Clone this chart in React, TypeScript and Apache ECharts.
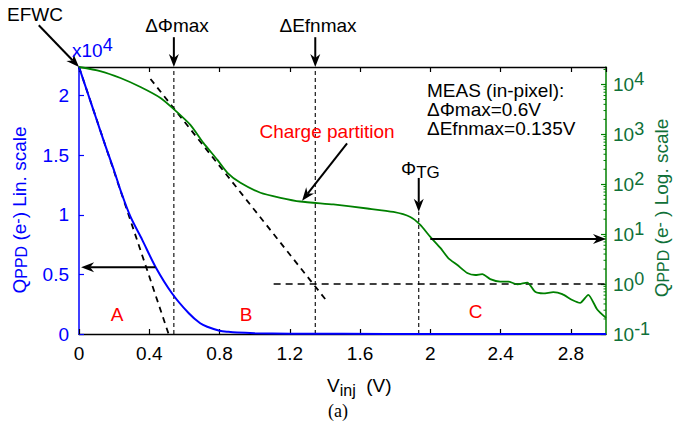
import React, { useEffect, useRef } from 'react';
import * as echarts from 'echarts';

// Injection voltage sweep (V) and pinned-photodiode charge, linear view (x10^4 e-)
const V_LIN = [0, 0.05, 0.1, 0.15, 0.2, 0.24, 0.293, 0.36, 0.435, 0.53, 0.625, 0.69, 0.73, 0.8, 0.85, 0.9, 1.0, 1.2, 1.5, 2.0, 2.5, 3.0];
const Q_LIN = [2.24, 2.02, 1.8, 1.58, 1.37, 1.19, 0.984, 0.79, 0.565, 0.34, 0.174, 0.09, 0.061, 0.028, 0.018, 0.012, 0.007, 0.003, 0.0015, 0.0007, 0.0003, 0.0001];

// Same measurement, log view (e-)
const V_LOG = [0, 0.12, 0.236, 0.35, 0.464, 0.538, 0.634, 0.708, 0.788, 0.845, 0.919, 1.033, 1.147, 1.26, 1.448, 1.641, 1.79, 1.886, 1.943, 2.0, 2.057, 2.102, 2.154, 2.21, 2.256, 2.296, 2.341, 2.398, 2.444, 2.495, 2.552, 2.597, 2.643, 2.7, 2.751, 2.808, 2.853, 2.899, 2.95, 3.0];
const Q_LOG = [22400, 18600, 13500, 8900, 5370, 3240, 1550, 676, 309, 170, 107, 67.6, 53.7, 45.2, 39.4, 32.7, 27.9, 22.1, 15.3, 8.8, 5.3, 3.33, 2.41, 1.67, 1.52, 1.59, 1.26, 1.12, 1.12, 0.99, 1.07, 0.7, 0.65, 0.69, 0.63, 0.48, 0.42, 0.61, 0.31, 0.21];

// Full well and marker voltages
const EFWC = 22400;
const V_DPHI = 0.54;
const V_DEFN = 1.345;
const V_TG = 1.934;

// Tangent fits (regions A and B)
const TAN_A: [number, number][] = [[0, 2.24], [0.51, 0]];
const TAN_B: [number, number][] = [[0.407, 12900], [1.41, 0.46]];

// Log axis minor tick multipliers and decades
const MINOR_MULT = [2, 3, 4, 5, 6, 7, 8, 9];
const DECADES = [0.1, 1, 10, 100, 1000, 10000];

const FONT = '"Liberation Sans", Arial, Helvetica, sans-serif';
const BLUE = '#0000ff';
const GREEN = '#008000';
const GREEN_TXT = '#107038';
const RED = '#ff0000';

export default function App() {
  const ref = useRef<HTMLDivElement>(null);

  useEffect(() => {
    const el = ref.current!;
    const chart = echarts.init(el, null, { renderer: 'svg' });

    const dashed = (yIdx: number, pts: [number, number][], dash: number[], width: number) => ({
      type: 'line',
      xAxisIndex: 0,
      yAxisIndex: yIdx,
      data: pts,
      symbol: 'none',
      silent: true,
      z: 3,
      lineStyle: { color: '#000', width, type: dash },
    });

    const minorTicks = DECADES.flatMap((d) => MINOR_MULT.map((m) => m * d)).filter((v) => v < EFWC);

    chart.setOption({
      animation: false,
      backgroundColor: '#fff',
      grid: { left: 79, right: 67, top: 67, bottom: 102, containLabel: false },
      xAxis: [
        {
          type: 'value',
          position: 'bottom',
          min: 0,
          max: 3,
          interval: 0.4,
          axisLine: { show: true, onZero: false, lineStyle: { color: '#000', width: 1.3 } },
          axisTick: { show: true, inside: true, length: 5, lineStyle: { color: '#000', width: 1.2 } },
          axisLabel: { fontSize: 19, fontFamily: FONT, color: '#000', margin: 10, showMaxLabel: false },
          splitLine: { show: false },
        },
        {
          type: 'value',
          position: 'top',
          min: 0,
          max: 3,
          interval: 0.4,
          axisLine: { show: true, onZero: false, lineStyle: { color: '#000', width: 1.3 } },
          axisTick: { show: true, inside: true, length: 5, lineStyle: { color: '#000', width: 1.2 } },
          axisLabel: { show: false },
          splitLine: { show: false },
        },
      ],
      yAxis: [
        {
          type: 'value',
          position: 'left',
          min: 0,
          max: EFWC / 1e4,
          interval: 0.5,
          axisLine: { show: true, onZero: false, lineStyle: { color: BLUE, width: 1.5 } },
          axisTick: { show: true, inside: true, length: 5, lineStyle: { color: BLUE, width: 1.2 } },
          axisLabel: { fontSize: 19, fontFamily: FONT, color: BLUE, margin: 10, showMaxLabel: false },
          splitLine: { show: false },
        },
        {
          type: 'log',
          logBase: 10,
          position: 'right',
          min: 0.1,
          max: EFWC,
          axisLine: { show: true, onZero: false, lineStyle: { color: GREEN, width: 1.5 } },
          axisTick: { show: true, inside: true, length: 5, lineStyle: { color: GREEN, width: 1.2 } },
          axisLabel: {
            margin: 7,
            showMaxLabel: false,
            formatter: (v: number) => {
              const lg = Math.log10(v);
              const e = Math.round(lg);
              if (Math.abs(lg - e) > 1e-6) return '';
              return `{b|10}{s|${e}}`;
            },
            rich: {
              b: { fontSize: 19, fontFamily: FONT, color: GREEN_TXT, lineHeight: 28 },
              s: { fontSize: 18, fontFamily: FONT, color: GREEN_TXT, lineHeight: 14, verticalAlign: 'top' },
            },
          },
          splitLine: { show: false },
        },
      ],
      series: [
        dashed(0, TAN_A, [6, 5], 1.8),
        dashed(1, TAN_B, [6, 5], 1.8),
        dashed(0, [[V_DPHI, 0], [V_DPHI, EFWC / 1e4]], [4, 3], 1.1),
        dashed(0, [[V_DEFN, 0], [V_DEFN, EFWC / 1e4]], [4, 3], 1.1),
        dashed(1, [[V_TG, 0.1], [V_TG, 28.2]], [4, 3], 1.1),
        dashed(1, [[1.108, 1], [3, 1]], [7, 5], 1.5),
        {
          type: 'line',
          name: 'lin',
          xAxisIndex: 0,
          yAxisIndex: 0,
          data: V_LIN.map((v, i) => [v, Q_LIN[i]]),
          symbol: 'none',
          smooth: 0.3,
          z: 4,
          lineStyle: { color: BLUE, width: 2 },
        },
        {
          type: 'line',
          name: 'log',
          xAxisIndex: 0,
          yAxisIndex: 1,
          data: V_LOG.map((v, i) => [v, Q_LOG[i]]),
          symbol: 'none',
          smooth: 0.2,
          z: 4,
          lineStyle: { color: GREEN, width: 1.8 },
        },
        {
          type: 'custom',
          xAxisIndex: 0,
          yAxisIndex: 1,
          silent: true,
          clip: false,
          z: 5,
          data: minorTicks.map((v) => [3, v]),
          renderItem: (_p: any, api: any) => {
            const p = api.coord([api.value(0), api.value(1)]);
            return {
              type: 'line',
              shape: { x1: p[0] - 2.5, y1: p[1], x2: p[0], y2: p[1] },
              style: { stroke: GREEN, lineWidth: 1 },
            };
          },
        },
      ],
    });

    const px = (yIdx: number, p: [number, number]) =>
      chart.convertToPixel({ xAxisIndex: 0, yAxisIndex: yIdx }, p) as number[];

    const arrow = (a: number[], b: number[]) => {
      const L = 13, W = 5, N = 4;
      const th = Math.atan2(b[1] - a[1], b[0] - a[0]);
      const c = Math.cos(th), s = Math.sin(th);
      const base = [b[0] - L * c, b[1] - L * s];
      const notch = [b[0] - (L - N) * c, b[1] - (L - N) * s];
      return [
        { type: 'line', silent: true, z: 10, shape: { x1: a[0], y1: a[1], x2: notch[0], y2: notch[1] }, style: { stroke: '#000', lineWidth: 2 } },
        {
          type: 'polygon', silent: true, z: 10,
          shape: { points: [b, [base[0] - W * s, base[1] + W * c], notch, [base[0] + W * s, base[1] - W * c]] },
          style: { fill: '#000' },
        },
      ];
    };

    const txt = (x: number, y: number, text: string, opts: any = {}) => ({
      type: 'text', silent: true, z: 10, x, y,
      style: {
        text, fontSize: 19, fontFamily: FONT, fill: '#000',
        textAlign: 'center', textVerticalAlign: 'middle', verticalAlign: 'middle',
        ...opts,
      },
    });

    const richSub = (color: string) => ({
      n: { fontSize: 19, fontFamily: FONT, fill: color, color, lineHeight: 20 },
      sub: { fontSize: 16, fontFamily: FONT, fill: color, color, lineHeight: 10, verticalAlign: 'bottom' },
      sup: { fontSize: 16, fontFamily: FONT, fill: color, color, lineHeight: 10, verticalAlign: 'top' },
    });

    const graphic: any[] = [
      ...arrow(px(0, [-0.229, 2.59]), px(0, [0, EFWC / 1e4])),
      ...arrow(px(0, [V_DPHI, 2.49]), px(0, [V_DPHI, EFWC / 1e4])),
      ...arrow(px(0, [V_DEFN, 2.49]), px(0, [V_DEFN, EFWC / 1e4])),
      ...arrow(px(1, [V_TG, 134]), px(1, [V_TG, 28.2])),
      ...arrow(px(1, [1.526, 660]), px(1, [1.27, 47])),
      ...arrow(px(0, [0.435, 0.56]), px(0, [0.012, 0.56])),
      ...arrow(px(1, [2.0, 8]), px(1, [3.0, 8])),
      txt(35, 14, 'EFWC'),
      txt(72, 50, '{b|x10}{s|4}', {
        textAlign: 'left',
        rich: {
          b: { fontSize: 19, fontFamily: FONT, fill: BLUE, color: BLUE, lineHeight: 28 },
          s: { fontSize: 18, fontFamily: FONT, fill: BLUE, color: BLUE, lineHeight: 14, verticalAlign: 'top' },
        },
      }),
      txt(177, 25, 'ΔΦmax'),
      txt(318, 25, 'ΔEfnmax'),
      txt(427, 90, 'MEAS (in-pixel):', { textAlign: 'left', lineHeight: 18 }),
      txt(427, 109, 'ΔΦmax=0.6V', { textAlign: 'left', lineHeight: 18 }),
      txt(427, 128, 'ΔEfnmax=0.135V', { textAlign: 'left', lineHeight: 18 }),
      txt(327, 131, 'Charge partition', { fill: RED }),
      txt(401, 168, '{n|Φ}{sub|TG}', {
        textAlign: 'left',
        rich: {
          n: { fontSize: 19, fontFamily: FONT, fill: '#000', lineHeight: 26 },
          sub: { fontSize: 17, fontFamily: FONT, fill: '#000', lineHeight: 18, verticalAlign: 'bottom' },
        },
      }),
      txt(117, 314, 'A', { fill: RED }),
      txt(246, 314, 'B', { fill: RED }),
      txt(475.5, 311, 'C', { fill: RED }),
      txt(327, 385, '{n|V}{sub|inj}{n|  (V)}', {
        textAlign: 'left',
        rich: {
          n: { fontSize: 19, fontFamily: FONT, fill: '#000', lineHeight: 26 },
          sub: { fontSize: 16, fontFamily: FONT, fill: '#000', lineHeight: 14, verticalAlign: 'bottom' },
        },
      }),
      txt(338, 411, '(a)', { fontFamily: '"Liberation Serif", "Times New Roman", serif', fontSize: 18 }),
      {
        ...txt(19, 210, '{n|Q}{sub|PPD}{n| (e}{sup|-}{n|) Lin. scale}', { rich: richSub(BLUE) }),
        rotation: Math.PI / 2,
      },
      {
        ...txt(661, 208, '{n|Q}{sub|PPD}{n| (e}{sup|-}{n| ) Log. scale}', { rich: richSub(GREEN_TXT) }),
        rotation: Math.PI / 2,
      },
    ];

    chart.setOption({ graphic });

    return () => chart.dispose();
  }, []);

  return (
    <div
      ref={ref}
      style={{ position: 'fixed', left: 0, top: 0, width: 673, height: 436, background: '#fff' }}
    />
  );
}
